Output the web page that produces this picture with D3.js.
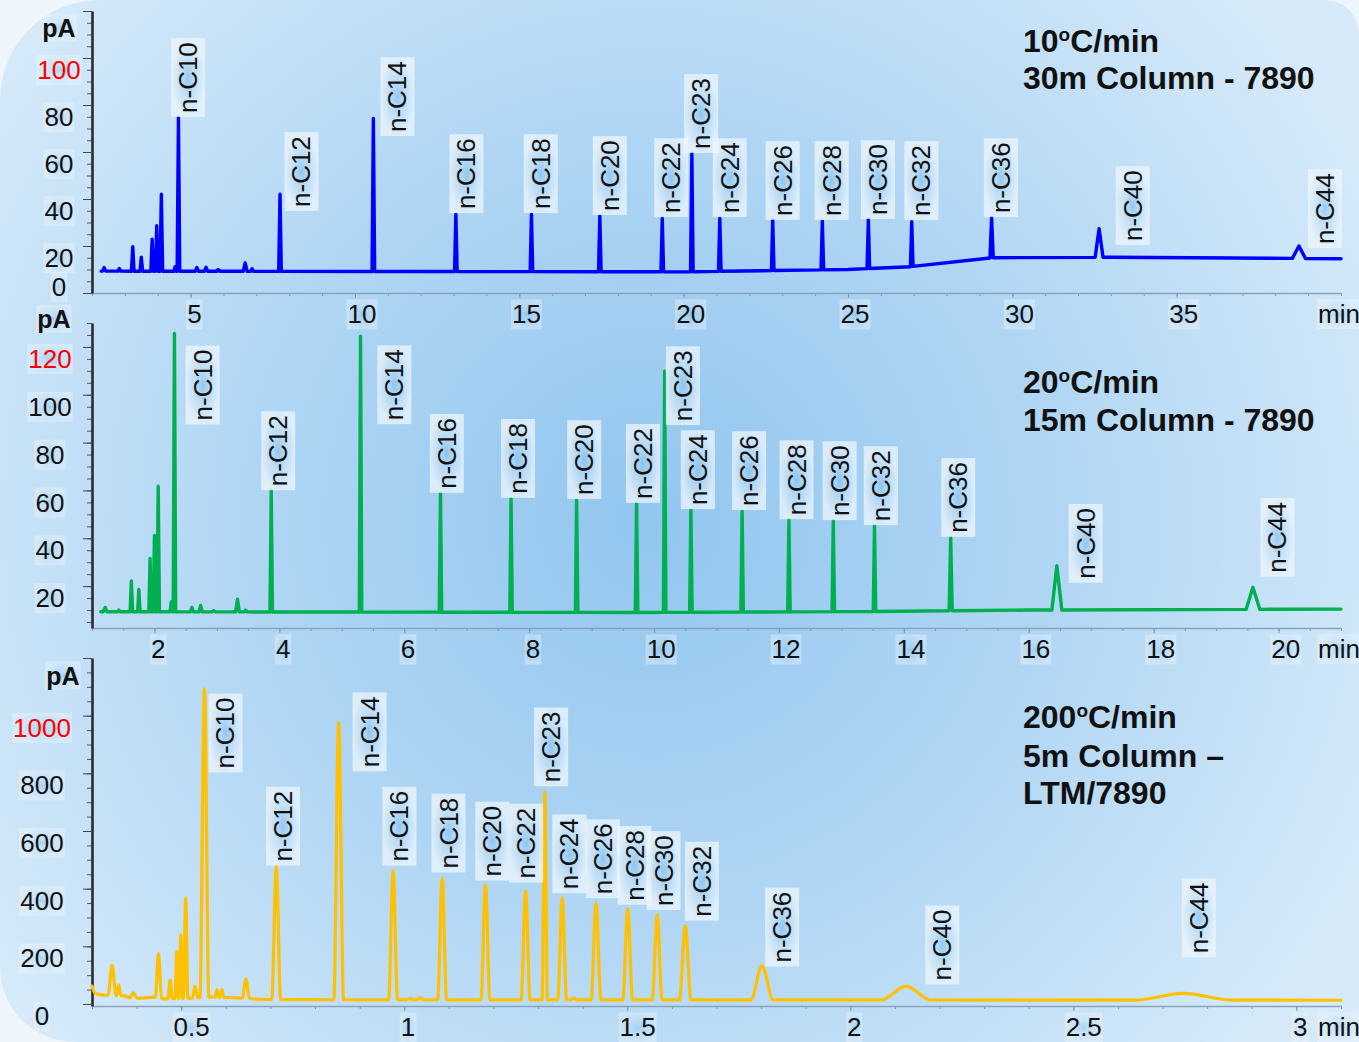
<!DOCTYPE html>
<html>
<head>
<meta charset="utf-8">
<script src="https://cdn.jsdelivr.net/npm/d3@7"></script>
<style>
  body { margin: 0; background: #eef5fc; }
  svg { display: block; font-family: "Liberation Sans", Arial, sans-serif; }
  .trace { fill: none; stroke-linejoin: round; stroke-linecap: round; }
  .tick-label { font-size: 26px; fill: #111; }
  .title { font-size: 32px; font-weight: 700; fill: #111; }
</style>
</head>
<body>
<div id="chart"></div>
<script>
// peak names, same for the three runs
const alkanes = ["n-C10", "n-C12", "n-C14", "n-C16", "n-C18", "n-C20", "n-C22", "n-C23",
  "n-C24", "n-C26", "n-C28", "n-C30", "n-C32", "n-C36", "n-C40", "n-C44"];

// 10 C/min, 30 m column (min, pA)
const rate10PeakTimes = [2.37, 2.83, 3.24, 3.50, 3.83, 3.97, 4.11, 4.53, 4.63, 5.19, 5.47, 5.84, 6.66, 6.87,
  7.72, 10.56, 13.07, 15.37, 17.45, 19.35, 20.25, 21.10, 22.71, 24.22, 25.62, 26.94, 29.37, 32.64, 38.72];
const rate10PeakHeights = [10.8, 10.4, 19.7, 15.2, 22.9, 28.6, 42.0, 11.2, 74.8, 10.8, 10.9, 10.0, 12.8, 10.3,
  42.0, 74.3, 33.5, 33.5, 32.8, 31.8, 59.4, 31.8, 31.1, 30.6, 31.4, 30.3, 32.2, 27.4, 20.0];
const rate10PeakWidths = [0.05, 0.04, 0.04, 0.04, 0.04, 0.04, 0.04, 0.04, 0.04, 0.05, 0.05, 0.05, 0.06, 0.04,
  0.04, 0.04, 0.04, 0.04, 0.04, 0.04, 0.04, 0.04, 0.04, 0.04, 0.04, 0.04, 0.05, 0.12, 0.20];
const rate10Baseline = [[2.28, 9.3], [20, 9.0], [25, 10.0], [26.9, 11.2], [29.4, 15.0], [33, 15.2], [40, 14.6]];
const rate10LabelTimes = [4.92, 8.37, 11.29, 13.39, 15.65, 17.75, 19.62, 20.53, 21.40, 23.01, 24.50, 25.91, 27.23, 29.65, 33.66, 39.51];
const rate10LabelLevels = [74.9, 34.9, 66.8, 34.0, 34.0, 33.2, 32.3, 59.6, 32.3, 31.1, 31.1, 31.5, 31.1, 32.3, 20.4, 19.1];
const rate10XTicks = [5, 10, 15, 20, 25, 30, 35];
const rate10YTicks = [0, 20, 40, 60, 80, 100, 120];
const rate10YLabels = [0, 20, 40, 60, 80, 100];

// 20 C/min, 15 m column
const rate20PeakTimes = [1.21, 1.43, 1.63, 1.75, 1.93, 2.00, 2.06, 2.27, 2.32, 2.60, 2.74, 2.95, 3.33, 3.46,
  3.87, 5.30, 6.58, 7.71, 8.76, 9.72, 10.17, 10.59, 11.41, 12.16, 12.87, 13.53, 14.75, 16.45, 19.59];
const rate20PeakHeights = [11.1, 10.0, 22.2, 18.6, 31.6, 41.2, 61.8, 13.5, 125.6, 11.1, 11.9, 9.8, 14.5, 10.0,
  60.4, 124.5, 59.0, 56.7, 56.2, 54.6, 109.9, 52.1, 51.5, 47.9, 47.6, 45.5, 40.4, 28.5, 19.5];
const rate20PeakWidths = [0.03, 0.02, 0.02, 0.02, 0.02, 0.02, 0.02, 0.02, 0.02, 0.025, 0.025, 0.03, 0.03, 0.02,
  0.02, 0.02, 0.02, 0.02, 0.02, 0.02, 0.02, 0.02, 0.02, 0.02, 0.02, 0.02, 0.025, 0.08, 0.11];
const rate20Baseline = [[1.14, 9.3], [10, 9.0], [13.5, 9.4], [16, 10.0], [21, 10.4]];
const rate20LabelTimes = [2.77, 3.98, 5.84, 6.68, 7.82, 8.88, 9.82, 10.46, 10.70, 11.52, 12.28, 12.97, 13.63, 14.87, 16.91, 19.98];
const rate20LabelLevels = [87.6, 60.1, 87.7, 59.0, 56.9, 56.4, 54.8, 87.3, 52.2, 51.8, 48.0, 47.6, 45.5, 40.6, 21.4, 23.9];
const rate20XTicks = [2, 4, 6, 8, 10, 12, 14, 16, 18, 20];
const rate20YTicks = [20, 40, 60, 80, 100, 120];
const rate20YLabels = [20, 40, 60, 80, 100, 120];

// 200 C/min, 5 m LTM column
const rate200PeakTimes = [0.345, 0.360, 0.393, 0.449, 0.475, 0.490, 0.499, 0.510, 0.531, 0.552, 0.580, 0.591,
  0.645, 0.713, 0.853, 0.975, 1.013, 1.036, 1.085, 1.182, 1.272, 1.315, 1.354, 1.380, 1.430, 1.501, 1.567,
  1.630, 1.802, 2.125, 2.747];
const rate200PeakHeights = [135, 66, 39, 176, 83, 182, 240, 367, 62, 1093, 49, 51,
  86, 477, 975, 463, 20, 22, 436, 413, 393, 734, 367, 20, 350, 329, 309,
  271, 132, 62, 37];
const rate200PeakWidths = [0.009, 0.005, 0.008, 0.007, 0.005, 0.004, 0.004, 0.005, 0.006, 0.010, 0.004, 0.004,
  0.008, 0.010, 0.011, 0.010, 0.008, 0.008, 0.010, 0.010, 0.010, 0.006, 0.010, 0.008, 0.011, 0.011, 0.011,
  0.013, 0.025, 0.055, 0.11];
const rate200Baseline = [[0.300, 62], [0.307, 37], [0.325, 31], [0.372, 28], [0.385, 22], [0.41, 20], [0.437, 24],
  [0.46, 18], [0.52, 20], [0.565, 24], [0.62, 22], [0.70, 15], [1.2, 14], [2.0, 14], [3.1, 13]];
const rate200LabelTimes = [0.599, 0.728, 0.922, 0.989, 1.099, 1.197, 1.273, 1.329, 1.370, 1.445, 1.516, 1.581, 1.667, 1.847, 2.206, 2.781];
const rate200LabelLevels = [803, 480, 807, 480, 456, 428, 421, 755, 384, 367, 344, 326, 289, 130, 68, 162];
const rate200XTicks = [0.5, 1, 1.5, 2, 2.5, 3];
const rate200YTicks = [0, 200, 400, 600, 800, 1000, 1200];
const rate200YLabels = [0, 200, 400, 600, 800, 1000];

const W = 1359;
const H = 1042;
const plotLeft = 92;
const plotRight = 1341;

const panels = [
  {
    times: rate10PeakTimes, heights: rate10PeakHeights, widths: rate10PeakWidths, baseline: rate10Baseline,
    labelTimes: rate10LabelTimes, labelLevels: rate10LabelLevels,
    xDomain: [2, 40], yDomain: [0, 120], top: 11, bottom: 293,
    xTicks: rate10XTicks, xMinor: d3.range(2, 40.01, 1),
    yTicks: rate10YTicks, yMinor: d3.range(0, 120.1, 5), yLabels: rate10YLabels,
    color: "#0000ff", curve: d3.curveLinear, lineWidth: 3.4,
    yLabelX: 59, unitX: 59, unitValue: 109, liftZero: true,
    title: ["10|C/min", "30m Column - 7890"], titleY: [52, 89]
  },
  {
    times: rate20PeakTimes, heights: rate20PeakHeights, widths: rate20PeakWidths, baseline: rate20Baseline,
    labelTimes: rate20LabelTimes, labelLevels: rate20LabelLevels,
    xDomain: [1, 21], yDomain: [2.5, 130], top: 323, bottom: 628,
    xTicks: rate20XTicks, xMinor: d3.range(1, 21.01, 0.5),
    yTicks: rate20YTicks, yMinor: d3.range(5, 130.1, 5), yLabels: rate20YLabels,
    color: "#00b050", curve: d3.curveLinear, lineWidth: 3.4,
    yLabelX: 50, unitX: 54, unitValue: 128, liftZero: false,
    title: ["20|C/min", "15m Column - 7890"], titleY: [393, 431]
  },
  {
    times: rate200PeakTimes, heights: rate200PeakHeights, widths: rate200PeakWidths, baseline: rate200Baseline,
    labelTimes: rate200LabelTimes, labelLevels: rate200LabelLevels,
    xDomain: [0.3, 3.1], yDomain: [-7, 1200], top: 658, bottom: 1006,
    xTicks: rate200XTicks, xMinor: d3.range(0.3, 3.101, 0.1),
    yTicks: rate200YTicks, yMinor: d3.range(0, 1200.1, 50), yLabels: rate200YLabels,
    color: "#ffc000", curve: d3.curveMonotoneX, lineWidth: 3.2,
    yLabelX: 42, unitX: 63, unitValue: 1108, liftZero: false,
    title: ["200|C/min", "5m Column \u2013", "LTM/7890"], titleY: [728, 767, 804]
  }
];

const svg = d3.select("#chart").append("svg").attr("width", W).attr("height", H);
const defs = svg.append("defs");

const bg = defs.append("radialGradient").attr("id", "bg")
  .attr("gradientUnits", "userSpaceOnUse")
  .attr("cx", 650).attr("cy", 520).attr("r", 800);
bg.append("stop").attr("offset", 0).attr("stop-color", "#92c6ef");
bg.append("stop").attr("offset", 0.5).attr("stop-color", "#b0d6f4");
bg.append("stop").attr("offset", 1).attr("stop-color", "#d6eaf9");

function glow(id, center, edge) {
  const g = defs.append("radialGradient").attr("id", id);
  g.append("stop").attr("offset", 0).attr("stop-color", "#86c1ee").attr("stop-opacity", center);
  g.append("stop").attr("offset", 0.45).attr("stop-color", "#c2e0f7").attr("stop-opacity", edge);
  g.append("stop").attr("offset", 1).attr("stop-color", "#eef6fd").attr("stop-opacity", edge + 0.1);
}
glow("labelGlow", 0.75, 0.65);
glow("tickGlow", 0.5, 0.3);

svg.append("rect").attr("width", W).attr("height", H).attr("fill", "#eef5fc");
svg.append("path")
  .attr("d", "M0,100 A100,100 0 0 1 100,0 H1325 A34,34 0 0 1 1359,34 V1042 H75 A75,75 0 0 1 0,967 Z")
  .attr("fill", "url(#bg)");

function addBox(sel, fill, padX, padY) {
  sel.each(function () {
    const b = this.getBBox();
    d3.select(this.parentNode).insert("rect", () => this)
      .attr("x", b.x - padX).attr("y", b.y - padY)
      .attr("width", b.width + 2 * padX).attr("height", b.height + 2 * padY)
      .attr("fill", `url(#${fill})`);
  });
}

function buildTrace(p) {
  const base = d3.scaleLinear()
    .domain(p.baseline.map((d) => d[0]))
    .range(p.baseline.map((d) => d[1]));
  const insidePeak = (t) => p.times.some((pt, i) => Math.abs(t - pt) < p.widths[i]);
  const points = p.baseline.filter((d) => !insidePeak(d[0])).map((d) => [d[0], d[1]]);
  p.times.forEach((t, i) => {
    const w = p.widths[i];
    points.push([t - w, base(t - w)], [t, p.heights[i]], [t + w, base(t + w)]);
  });
  return points.sort((a, b) => a[0] - b[0]);
}

panels.forEach((p) => {
  const x = d3.scaleLinear().domain(p.xDomain).range([plotLeft, plotRight]);
  const y = d3.scaleLinear().domain(p.yDomain).range([p.bottom, p.top]);
  const g = svg.append("g");

  // x axis
  g.append("g")
    .attr("transform", `translate(0,${p.bottom})`)
    .call(d3.axisBottom(x).tickValues(p.xMinor).tickSize(3).tickSizeOuter(0).tickFormat(""))
    .call((a) => a.select(".domain").remove())
    .call((a) => a.selectAll("line").attr("stroke", "#7f98b2"));
  const xAxis = g.append("g")
    .attr("transform", `translate(0,${p.bottom})`)
    .call(d3.axisBottom(x).tickValues(p.xTicks).tickSize(5).tickSizeOuter(0).tickPadding(7).tickFormat((d) => String(d)))
    .call((a) => a.select(".domain").attr("stroke", "#8aa2ba").attr("stroke-width", 1.6))
    .call((a) => a.selectAll("line").attr("stroke", "#7f98b2"));
  xAxis.selectAll("text")
    .attr("class", "tick-label")
    .attr("font-size", null).attr("font-family", null).attr("fill", null)
    .attr("dx", function () { return this.textContent.length * 3.3; });
  addBox(xAxis.selectAll("text"), "tickGlow", 1, 0);
  const minLabel = g.append("text").attr("class", "tick-label")
    .attr("x", 1339).attr("y", p.bottom + 30).attr("text-anchor", "middle")
    .attr("font-size", 24).text("min");
  addBox(minLabel, "tickGlow", 1, 0);

  // y axis
  g.append("g")
    .attr("transform", `translate(${plotLeft},0)`)
    .call(d3.axisLeft(y).tickValues(p.yMinor).tickSize(5).tickSizeOuter(0).tickFormat(""))
    .call((a) => a.select(".domain").remove())
    .call((a) => a.selectAll("line").attr("stroke", "#556"));
  g.append("g")
    .attr("transform", `translate(${plotLeft},0)`)
    .call(d3.axisLeft(y).tickValues(p.yTicks).tickSize(9).tickSizeOuter(0).tickFormat(""))
    .call((a) => a.select(".domain").attr("stroke", "#2b2b2b").attr("stroke-width", 2.6))
    .call((a) => a.selectAll("line").attr("stroke", "#445"));
  const topLabel = d3.max(p.yLabels);
  const yLabels = g.append("g").selectAll("text")
    .data(p.yLabels)
    .join("text")
    .attr("class", "tick-label")
    .attr("x", p.yLabelX)
    .attr("y", (d) => y(d) + (d === 0 && p.liftZero ? -6 : 12))
    .attr("dy", "0.35em")
    .attr("text-anchor", "middle")
    .style("fill", (d) => (d === topLabel ? "#ff0000" : null))
    .text((d) => d);
  addBox(yLabels, "tickGlow", 1, 0);
  const unit = g.append("text")
    .attr("x", p.unitX).attr("y", y(p.unitValue))
    .attr("text-anchor", "middle")
    .attr("font-size", 25).attr("font-weight", 700).attr("fill", "#111")
    .text("pA");
  addBox(unit, "tickGlow", 1, 0);

  // trace
  const line = d3.line()
    .x((d) => x(d[0]))
    .y((d) => y(d[1]))
    .curve(p.curve);
  g.append("path")
    .attr("class", "trace")
    .attr("d", line(buildTrace(p)))
    .attr("stroke", p.color)
    .attr("stroke-width", p.lineWidth);

  // peak labels
  const labels = g.append("g").selectAll("g")
    .data(alkanes.map((name, i) => ({ name, t: p.labelTimes[i], v: p.labelLevels[i] })))
    .join("g")
    .attr("transform", (d) => `translate(${x(d.t)},${y(d.v)}) rotate(-90)`);
  const labelText = labels.append("text")
    .attr("x", 4)
    .attr("dy", "0.35em")
    .attr("font-size", 26)
    .attr("fill", "#111")
    .text((d) => d.name);
  addBox(labelText, "labelGlow", 4, 2);

  // run title
  const title = g.append("g");
  p.title.forEach((lineText, i) => {
    const t = title.append("text").attr("class", "title").attr("x", 1023).attr("y", p.titleY[i]);
    const parts = lineText.split("|");
    if (parts.length === 2) {
      t.append("tspan").text(parts[0]);
      t.append("tspan").attr("font-size", 19).attr("dy", -11).text("o");
      t.append("tspan").attr("dy", 11).text(parts[1]);
    } else {
      t.text(lineText);
    }
  });
});
</script>
</body>
</html>
